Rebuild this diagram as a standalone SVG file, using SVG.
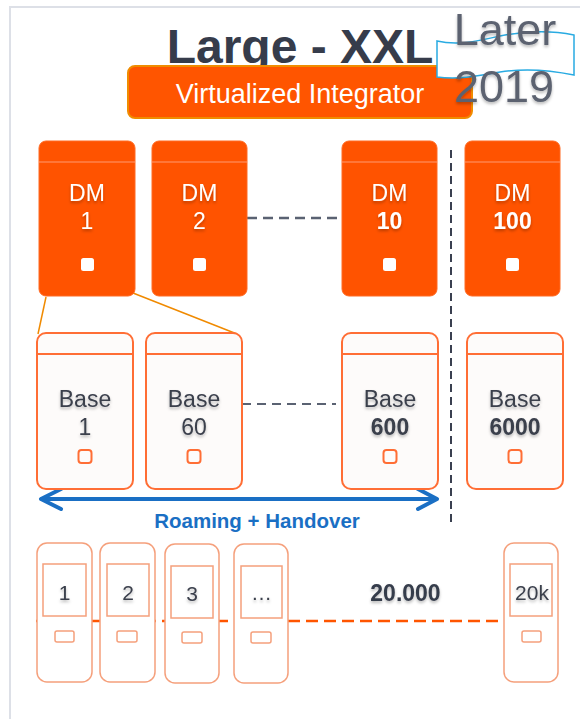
<svg xmlns="http://www.w3.org/2000/svg" width="580" height="719" viewBox="0 0 580 719">
<defs>
<filter id="ts" x="-20%" y="-20%" width="140%" height="160%"><feDropShadow dx="0" dy="2" stdDeviation="1.5" flood-color="#000" flood-opacity="0.28"/></filter>
<style>
text{font-family:"Liberation Sans",Arial,sans-serif;text-anchor:middle}
.dm{fill:#ff5300;stroke:#ff6a22;stroke-width:1}
.dmh{stroke:#ff9a70;stroke-width:1}
.dmt{fill:#fff;font-size:23px}
.wsq{fill:#fff}
.base{fill:#fdfbfa;stroke:#ff6e35;stroke-width:2}
.bt{fill:#3a3f4c;font-size:23px}
.osq{fill:none;stroke:#ff6e35;stroke-width:2}
.ph{fill:#fff;stroke:#f5a07c;stroke-width:1.5}
.pt{fill:#3a3f4c;font-size:21px}
</style>
</defs>
<rect width="580" height="719" fill="#fff"/>
<path d="M10,719 V7 H580" fill="none" stroke="#dde0e7" stroke-width="2"/>

<g id="title">
<text x="300" y="63" font-size="48" font-weight="bold" fill="#363c4b">Large - XXL</text>
</g>

<g id="integrator">
<rect x="128" y="66" width="344" height="52" rx="7" fill="#ff5500" stroke="#f08c00" stroke-width="2"/>
<text x="300" y="103" font-size="27" fill="#fff">Virtualized Integrator</text>
</g>

<g id="later">
<path d="M437,41 C458,46 478,41 500,36 C525,31 550,30 574,35 L574,75 C550,70 525,68 500,72 C478,76 458,80 437,77 Z" fill="#fff" stroke="#29abe2" stroke-width="1.5"/>
<text x="505" y="45" font-size="45" fill="#5b6270" filter="url(#ts)">Later</text>
<text x="504" y="102" font-size="45" fill="#5b6270" filter="url(#ts)">2019</text>
</g>

<g id="connectors">
<line x1="247" y1="218" x2="342" y2="218" stroke="#5a6272" stroke-width="2.5" stroke-dasharray="10,6"/>
<line x1="242" y1="404" x2="336" y2="404" stroke="#5a6272" stroke-width="2" stroke-dasharray="9,6"/>
<line x1="451" y1="150" x2="451" y2="527" stroke="#3a4050" stroke-width="2" stroke-dasharray="8,5"/>
<line x1="46" y1="297" x2="38" y2="334" stroke="#f08a00" stroke-width="1.5"/>
<line x1="133" y1="293" x2="237" y2="334" stroke="#f08a00" stroke-width="1.5"/>
<g fill="none" stroke="#1a6fc4" stroke-width="4" stroke-linecap="round" stroke-linejoin="round">
<line x1="42" y1="499" x2="435" y2="499"/>
<path d="M61,489 L41,499 L61,509"/>
<path d="M418,489 L437,499 L418,509"/>
</g>
<line x1="36" y1="621" x2="504" y2="621" stroke="#ff5500" stroke-width="2.5" stroke-dasharray="12,6"/>
</g>

<text id="roaming" x="257" y="528" font-size="20.5" font-weight="bold" fill="#1a6fc4">Roaming + Handover</text>

<g id="dm1">
<rect class="dm" x="39" y="141" width="96" height="155" rx="7"/>
<line class="dmh" x1="39" y1="162" x2="135" y2="162"/>
<text class="dmt" x="87" y="201" filter="url(#ts)">DM</text>
<text class="dmt" x="87" y="229" filter="url(#ts)">1</text>
<rect class="wsq" x="81" y="258" width="13" height="13" rx="2.5"/>
</g>
<g id="dm2">
<rect class="dm" x="152" y="141" width="95" height="155" rx="7"/>
<line class="dmh" x1="152" y1="162" x2="247" y2="162"/>
<text class="dmt" x="199.5" y="201" filter="url(#ts)">DM</text>
<text class="dmt" x="199.5" y="229" filter="url(#ts)">2</text>
<rect class="wsq" x="193" y="258" width="13" height="13" rx="2.5"/>
</g>
<g id="dm10">
<rect class="dm" x="342" y="141" width="95" height="155" rx="7"/>
<line class="dmh" x1="342" y1="162" x2="437" y2="162"/>
<text class="dmt" x="389.5" y="201" filter="url(#ts)">DM</text>
<text class="dmt" x="389.5" y="229" font-weight="bold" filter="url(#ts)">10</text>
<rect class="wsq" x="383" y="258" width="13" height="13" rx="2.5"/>
</g>
<g id="dm100">
<rect class="dm" x="465" y="141" width="95" height="155" rx="7"/>
<line class="dmh" x1="465" y1="162" x2="560" y2="162"/>
<text class="dmt" x="512.5" y="201" filter="url(#ts)">DM</text>
<text class="dmt" x="512.5" y="229" font-weight="bold" filter="url(#ts)">100</text>
<rect class="wsq" x="506" y="258" width="13" height="13" rx="2.5"/>
</g>

<g id="base1">
<rect class="base" x="37" y="333" width="96" height="156" rx="9"/>
<line class="base" x1="37" y1="354" x2="133" y2="354"/>
<text class="bt" x="85" y="407" filter="url(#ts)">Base</text>
<text class="bt" x="85" y="435" filter="url(#ts)">1</text>
<rect class="osq" x="78.5" y="450" width="13" height="13" rx="3"/>
</g>
<g id="base60">
<rect class="base" x="146" y="333" width="96" height="156" rx="9"/>
<line class="base" x1="146" y1="354" x2="242" y2="354"/>
<text class="bt" x="194" y="407" filter="url(#ts)">Base</text>
<text class="bt" x="194" y="435" filter="url(#ts)">60</text>
<rect class="osq" x="187.5" y="450" width="13" height="13" rx="3"/>
</g>
<g id="base600">
<rect class="base" x="342" y="333" width="96" height="156" rx="9"/>
<line class="base" x1="342" y1="354" x2="438" y2="354"/>
<text class="bt" x="390" y="407" filter="url(#ts)">Base</text>
<text class="bt" x="390" y="435" font-weight="bold" filter="url(#ts)">600</text>
<rect class="osq" x="383.5" y="450" width="13" height="13" rx="3"/>
</g>
<g id="base6000">
<rect class="base" x="467" y="333" width="96" height="156" rx="9"/>
<line class="base" x1="467" y1="354" x2="563" y2="354"/>
<text class="bt" x="515" y="407" filter="url(#ts)">Base</text>
<text class="bt" x="515" y="435" font-weight="bold" filter="url(#ts)">6000</text>
<rect class="osq" x="508.5" y="450" width="13" height="13" rx="3"/>
</g>

<g id="phone1">
<rect class="ph" x="37" y="543" width="55" height="139" rx="10"/>
<rect class="ph" x="43" y="564" width="43" height="52"/>
<rect class="ph" x="55" y="631" width="19" height="11" rx="2"/>
<text class="pt" x="64.5" y="600" filter="url(#ts)">1</text>
</g>
<g id="phone2">
<rect class="ph" x="100" y="543" width="55" height="139" rx="10"/>
<rect class="ph" x="107" y="564" width="42" height="52"/>
<rect class="ph" x="117" y="631" width="20" height="11" rx="2"/>
<text class="pt" x="128" y="600" filter="url(#ts)">2</text>
</g>
<g id="phone3">
<rect class="ph" x="165" y="544" width="54" height="139" rx="10"/>
<rect class="ph" x="171" y="566" width="42" height="52"/>
<rect class="ph" x="182" y="632" width="20" height="11" rx="2"/>
<text class="pt" x="192" y="601" filter="url(#ts)">3</text>
</g>
<g id="phone4">
<rect class="ph" x="234" y="544" width="54" height="139" rx="10"/>
<rect class="ph" x="241" y="566" width="41" height="52"/>
<rect class="ph" x="251" y="632" width="20" height="11" rx="2"/>
<text class="pt" x="261.5" y="600" filter="url(#ts)">…</text>
</g>
<g id="phone20k">
<rect class="ph" x="504" y="543" width="54" height="139" rx="10"/>
<rect class="ph" x="510" y="564" width="42" height="52"/>
<rect class="ph" x="522" y="631" width="19" height="11" rx="2"/>
<text class="pt" x="532" y="600" filter="url(#ts)">20k</text>
</g>

<text id="count" x="405.5" y="601" font-size="23" font-weight="bold" fill="#363c4b" filter="url(#ts)">20.000</text>
</svg>
